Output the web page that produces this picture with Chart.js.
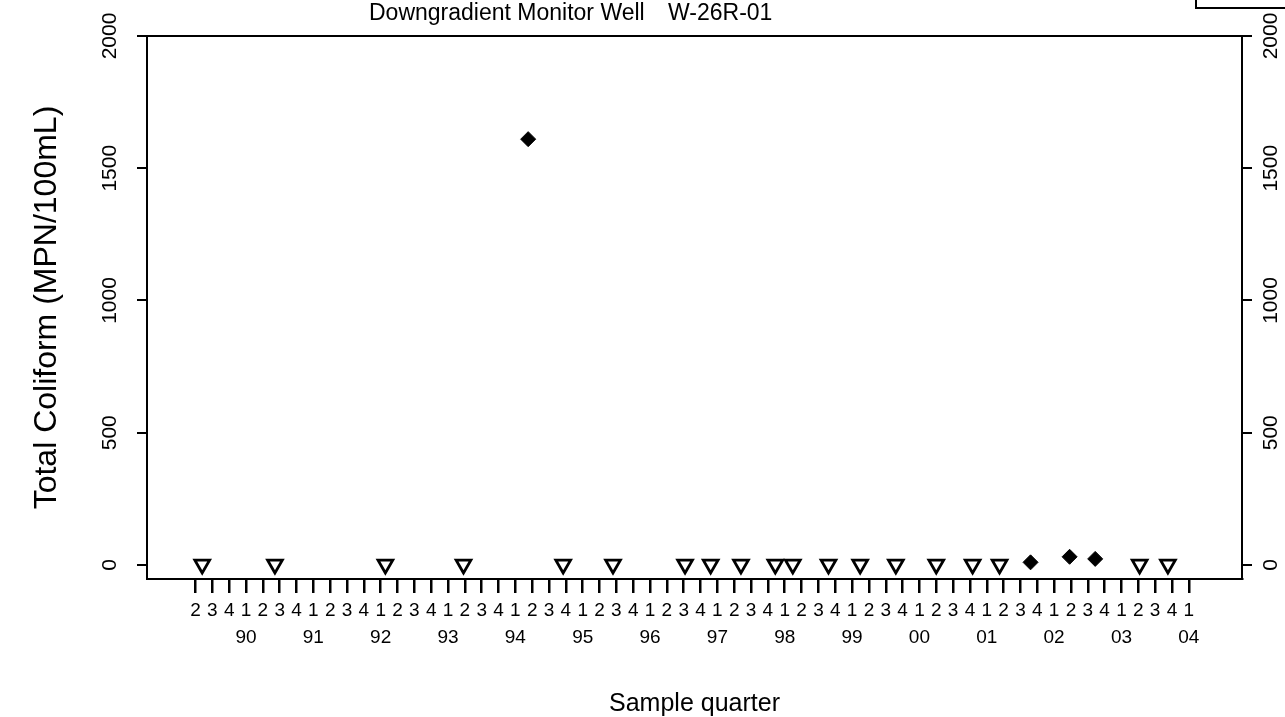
<!DOCTYPE html>
<html>
<head>
<meta charset="utf-8">
<script src="https://cdn.jsdelivr.net/npm/chart.js@4.4.0/dist/chart.umd.min.js"></script>
<style>
  html, body { margin: 0; padding: 0; background: #fff; }
  canvas { display: block; }
</style>
</head>
<body>
<canvas id="myChart" width="1285" height="717"></canvas>
<script>
// sample dates as decimal years (Q1 = .00, Q2 = .25 ...), values in MPN/100mL
const ndDates = [1989.35, 1990.43, 1992.07, 1993.23, 1994.71, 1995.45, 1996.52, 1996.90, 1997.35,
  1997.86, 1998.12, 1998.65, 1999.12, 1999.65, 2000.25, 2000.79, 2001.19, 2003.27, 2003.69];
const ndValues = [2, 2, 2, 2, 2, 2, 2, 2, 2, 2, 2, 2, 2, 2, 2, 2, 2, 2, 2];   // not detected (<2)
const detDates = [1994.19, 2001.65, 2002.23, 2002.61];
const detValues = [1610, 10, 31, 23];                                        // detected

const yTicks = [0, 500, 1000, 1500, 2000];
const firstTick = 1989.25;   // 1989 Q2
const lastTick = 2004.0;     // 2004 Q1

const FONT = '"Liberation Sans", Arial, Helvetica, sans-serif';

const quarterTicks = [];
for (let v = firstTick; v <= lastTick + 1e-6; v += 0.25) quarterTicks.push({ value: v });

function quarterLabel(v) {
  const yr = Math.floor(v + 1e-6);
  const q = Math.round((v - yr) * 4) + 1;
  return [String(q), q === 1 ? String(yr).slice(2) : ''];
}

const decor = {
  id: 'decor',
  afterDraw(chart) {
    const { ctx, chartArea: a } = chart;
    ctx.save();
    ctx.strokeStyle = '#000';
    ctx.lineWidth = 2;
    ctx.strokeRect(a.left, a.top, a.right - a.left, a.bottom - a.top);
    // corner of a box cut off at the top right
    ctx.beginPath();
    ctx.moveTo(1196, 0);
    ctx.lineTo(1196, 8);
    ctx.lineTo(1285, 8);
    ctx.stroke();
    ctx.fillStyle = '#000';
    ctx.font = '23px ' + FONT;
    ctx.textBaseline = 'alphabetic';
    ctx.fillText('Downgradient Monitor Well', 369, 20);
    ctx.fillText('W-26R-01', 668, 20);
    ctx.restore();
  }
};

const yTickOpts = (pad) => ({
  minRotation: 90,
  maxRotation: 90,
  crossAlign: 'center',
  padding: pad,
  color: '#000',
  font: { family: FONT, size: 21 },
  callback: (v) => String(v)
});

const context = document.getElementById('myChart').getContext('2d');
const myChart = new Chart(context, {
  type: 'scatter',
  data: {
    datasets: [
      {
        label: 'not detected',
        data: ndDates.map((d, i) => ({ x: d, y: ndValues[i] })),
        pointStyle: 'triangle',
        rotation: 180,
        pointRadius: 8.5,
        pointBorderWidth: 2.8,
        borderColor: '#000',
        backgroundColor: 'rgba(0,0,0,0)'
      },
      {
        label: 'detected',
        data: detDates.map((d, i) => ({ x: d, y: detValues[i] })),
        pointStyle: 'rectRot',
        pointRadius: 7.5,
        pointBorderWidth: 1,
        borderColor: '#000',
        backgroundColor: '#000'
      }
    ]
  },
  options: {
    responsive: false,
    animation: false,
    layout: { padding: { top: 36, left: 0, right: 0, bottom: 0 } },
    plugins: { legend: { display: false }, tooltip: { enabled: false } },
    scales: {
      x: {
        type: 'linear',
        position: 'bottom',
        min: 1988.53,
        max: 2004.79,
        afterBuildTicks: (s) => { s.ticks = quarterTicks.map(t => ({ value: t.value })); },
        afterFit: (s) => { s.height = 138; },
        grid: { drawOnChartArea: false, drawTicks: true, tickLength: 14, color: '#000', lineWidth: 2.5 },
        border: { display: true, color: '#000', width: 2 },
        ticks: {
          autoSkip: false,
          maxRotation: 0,
          minRotation: 0,
          padding: 5,
          color: '#000',
          font: { family: FONT, size: 19, lineHeight: 1.38 },
          callback: (v) => quarterLabel(v)
        },
        title: {
          display: true,
          text: 'Sample quarter',
          color: '#000',
          font: { family: FONT, size: 25, lineHeight: 1 },
          padding: { top: 0, bottom: 0 }
        }
      },
      y: {
        type: 'linear',
        position: 'left',
        min: -53,
        max: 2000,
        afterBuildTicks: (s) => { s.ticks = yTicks.map(v => ({ value: v })); },
        afterFit: (s) => { s.width = 147; },
        grid: { drawOnChartArea: false, drawTicks: true, tickLength: 10, color: '#000', lineWidth: 2 },
        border: { display: true, color: '#000', width: 2 },
        ticks: yTickOpts(3),
        title: {
          display: true,
          text: 'Total Coliform (MPN/100mL)',
          color: '#000',
          font: { family: FONT, size: 32, lineHeight: 1 },
          padding: { top: 31, bottom: 0 }
        }
      },
      y2: {
        type: 'linear',
        position: 'right',
        min: -53,
        max: 2000,
        afterBuildTicks: (s) => { s.ticks = yTicks.map(v => ({ value: v })); },
        afterFit: (s) => { s.width = 43; },
        grid: { drawOnChartArea: false, drawTicks: true, tickLength: 10, color: '#000', lineWidth: 2 },
        border: { display: true, color: '#000', width: 2 },
        ticks: yTickOpts(-4)
      }
    }
  },
  plugins: [decor]
});
</script>
</body>
</html>
